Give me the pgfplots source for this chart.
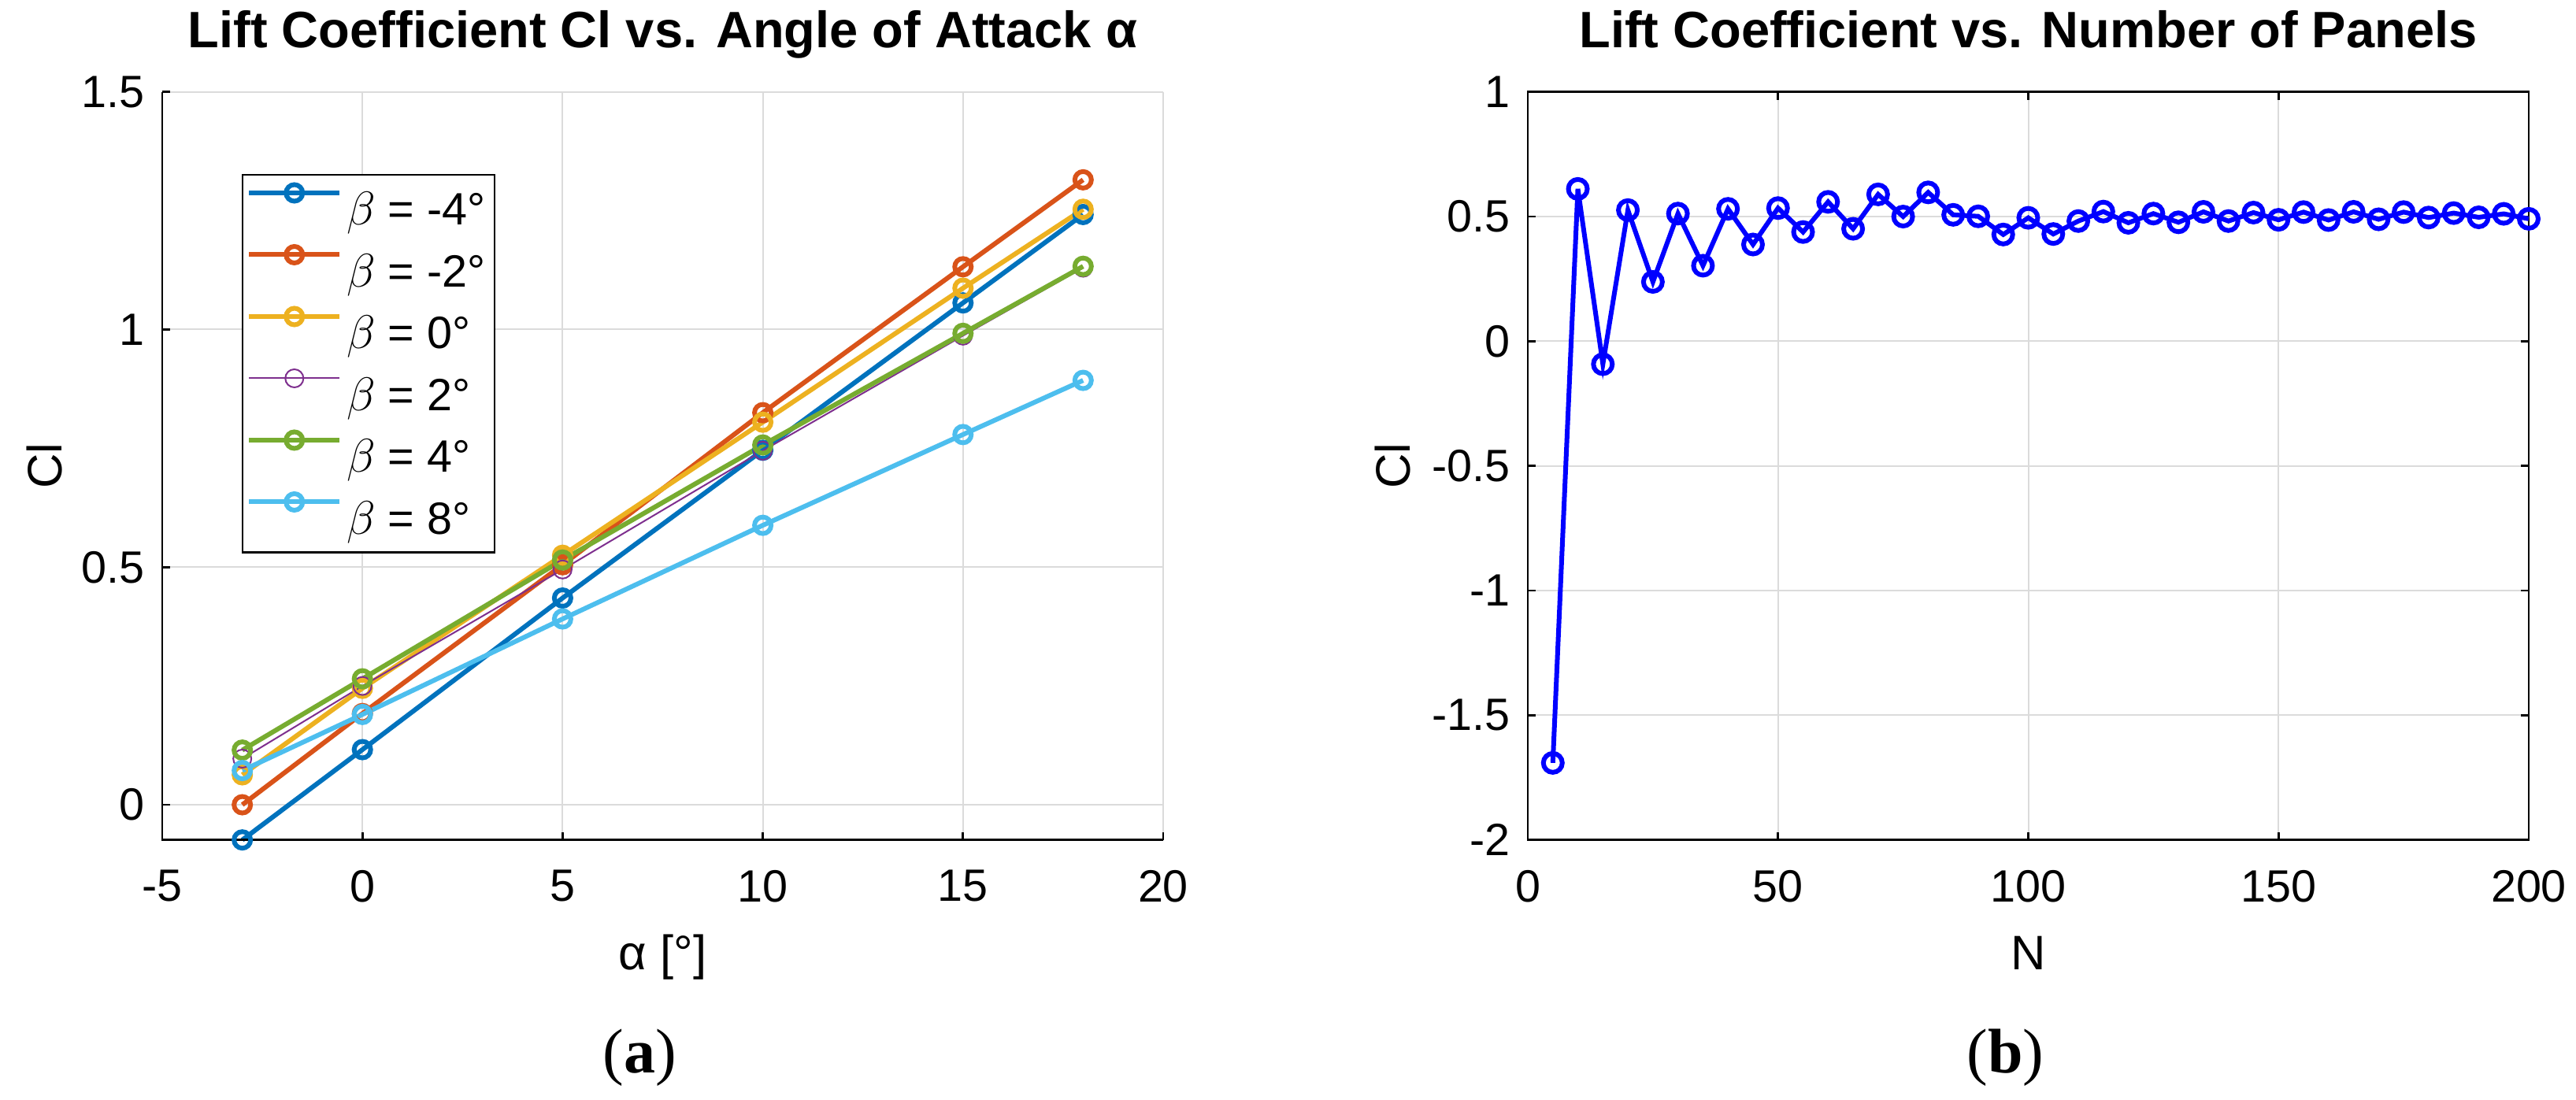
\documentclass[border=0pt]{standalone}
\usepackage{pgfplots}
\pgfplotsset{compat=1.18}
\usepackage{fontspec}
\setmainfont{Liberation Sans}
\newfontfamily\seriffont{Liberation Serif}
\definecolor{c1}{rgb}{0,0.447,0.741}
\definecolor{c2}{rgb}{0.85,0.325,0.098}
\definecolor{c3}{rgb}{0.929,0.694,0.125}
\definecolor{c4}{rgb}{0.494,0.184,0.556}
\definecolor{c5}{rgb}{0.466,0.674,0.188}
\definecolor{c6}{rgb}{0.301,0.745,0.933}
\pgfplotsset{
  common/.style={
    scale only axis,
    width=254.2pt, height=190pt,
    tick style={black, line width=0.55pt},
    major tick length=2pt,
    tick align=inside,
    grid=major,
    grid style={black!14, line width=0.4pt},
    /pgf/number format/assume math mode=true,
    ticklabel style={font=\fontsize{11.5}{13}\selectfont},
    xticklabel style={yshift=-4.2pt},
    yticklabel style={xshift=-1pt},
    label style={font=\fontsize{12.3}{14}\selectfont},
    title style={font=\fontsize{13}{15}\selectfont\bfseries, at={([yshift=5.33pt]axis description cs:0.5,1)}, anchor=base},
    xlabel style={at={([yshift=-33pt]axis description cs:0.5,0)}, anchor=base},
    clip=false,
  },
  lft/.style={line width=1.2pt, mark=o, mark size=2.1pt, mark options={solid, line width=1.2pt}},
}
\begin{document}
\begin{tikzpicture}
\path[use as bounding box] (0,0) rectangle (654.2pt,279.2pt);
\begin{axis}[common, name=A,
  at={(41.2pt,65.86pt)}, anchor=south west,
  xmin=-5, xmax=20, ymin=-0.074, ymax=1.5,
  xtick={-5,0,5,10,15,20}, ytick={0,0.5,1,1.5},
  axis line style={draw=none},
  tick pos=left,
  title={Lift Coefficient Cl vs. Angle of Attack α},
  xlabel={α [°]}, ylabel={Cl},
  ylabel style={at={([xshift=-25.6pt]axis description cs:0,0.5)}, anchor=base, rotate=0},
  legend style={at={(0.0791,0.8905)}, anchor=north west, draw=black, line width=0.5pt, fill=white,
    font=\fontsize{11.5}{13}\selectfont, inner xsep=1.1pt, inner ysep=0.85pt, row sep=0pt,
    nodes={inner xsep=1.2pt, inner ysep=0pt, text height=11.95pt, text depth=3.75pt}},
  legend cell align=left,
  legend image code/.code={\draw[mark repeat=2,mark phase=2,#1] plot coordinates {(0pt,4.1pt) (11.5pt,4.1pt) (23pt,4.1pt)};},
]
\addplot[lft, c1] coordinates {(-3,-0.074) (0,0.116) (5,0.435) (10,0.746) (15,1.056) (18,1.242)};
\addlegendentry{$\beta$ = -4°}
\addplot[lft, c2] coordinates {(-3,0.0) (0,0.192) (5,0.505) (10,0.825) (15,1.132) (18,1.315)};
\addlegendentry{$\beta$ = -2°}
\addplot[lft, c3] coordinates {(-3,0.063) (0,0.245) (5,0.525) (10,0.805) (15,1.087) (18,1.253)};
\addlegendentry{$\beta$ = 0°}
\addplot[line width=0.4pt, c4, mark=o, mark size=2.3pt, mark options={solid, line width=0.4pt}] coordinates {(-3,0.097) (0,0.25) (5,0.495) (10,0.745) (15,0.987) (18,1.13)};
\addlegendentry{$\beta$ = 2°}
\addplot[lft, c5] coordinates {(-3,0.115) (0,0.265) (5,0.515) (10,0.757) (15,0.992) (18,1.133)};
\addlegendentry{$\beta$ = 4°}
\addplot[lft, c6] coordinates {(-3,0.072) (0,0.19) (5,0.391) (10,0.588) (15,0.779) (18,0.893)};
\addlegendentry{$\beta$ = 8°}
\draw[black, line width=0.55pt] (rel axis cs:0,1) -- (rel axis cs:0,0) -- (rel axis cs:1,0);
\end{axis}
\node[font=\seriffont\fontsize{16}{18}\selectfont, anchor=base] at ([xshift=-5.8pt, yshift=-59.1pt]A.south) {(\textbf{a})};
\begin{axis}[common, name=B,
  at={(388pt,65.86pt)}, anchor=south west,
  xmin=0, xmax=200, ymin=-2, ymax=1,
  xtick={0,50,100,150,200}, ytick={-2,-1.5,-1,-0.5,0,0.5,1},
  axis line style={black, line width=0.55pt},
  title={Lift Coefficient vs. Number of Panels},
  xlabel={N}, ylabel={Cl},
  ylabel style={at={([xshift=-30pt]axis description cs:0,0.5)}, anchor=base, rotate=0},
]
\addplot[blue, line width=1.2pt, mark=o, mark size=2.4pt, mark options={solid, line width=1.2pt}] coordinates {
(5,-1.691) (10,0.611) (15,-0.092) (20,0.526) (25,0.238) (30,0.512) (35,0.303) (40,0.531)
(45,0.388) (50,0.534) (55,0.438) (60,0.559) (65,0.451) (70,0.589) (75,0.500) (80,0.597)
(85,0.507) (90,0.501) (95,0.428) (100,0.495) (105,0.430) (110,0.482) (115,0.520) (120,0.475)
(125,0.512) (130,0.477) (135,0.519) (140,0.482) (145,0.516) (150,0.487) (155,0.518) (160,0.486)
(165,0.519) (170,0.489) (175,0.518) (180,0.496) (185,0.514) (190,0.497) (195,0.511) (200,0.491)};
\end{axis}
\node[font=\seriffont\fontsize{16}{18}\selectfont, anchor=base] at ([xshift=-5.8pt, yshift=-59.1pt]B.south) {(\textbf{b})};
\end{tikzpicture}
\end{document}
